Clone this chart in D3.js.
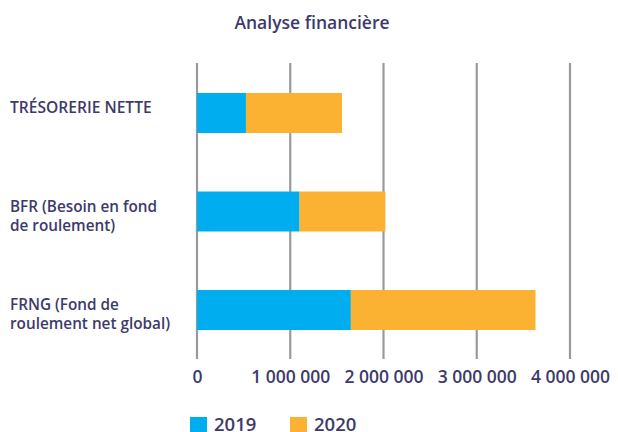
<!DOCTYPE html>
<html>
<head>
<meta charset="utf-8">
<script src="https://cdn.jsdelivr.net/npm/d3@7"></script>
<style>
  body { margin: 0; background: #fff; }
  svg { font-family: "Open Sans", sans-serif; }
</style>
</head>
<body>
<svg width="618" height="432"></svg>
<script>
  // DATA

  var categories = ["TRÉSORERIE NETTE", "BFR (Besoin en fond de roulement)", "FRNG (Fond de roulement net global)"],
    labelLines = [["TRÉSORERIE NETTE"], ["BFR (Besoin en fond", "de roulement)"], ["FRNG (Fond de", "roulement net global)"]],
    series = ["2019", "2020"],
    values2019 = [525000, 1100000, 1650000],
    values2020 = [1030000, 920000, 1980000],
    ticks = [0, 1000000, 2000000, 3000000, 4000000],
    colors = ["#00aeef", "#fbb131"];

  // SETUP

  var svg = d3.select("svg"),
    ink = "#3d3a6b";

  var x = d3.scaleLinear().domain([0, 4000000]).range([197, 570]);
  var y = d3.scaleBand().domain(categories).range([93, 330]).paddingInner(0.594).paddingOuter(0);

  var rows = categories.map(function (c, i) {
    return { cat: c, lines: labelLines[i], v: [values2019[i], values2020[i]] };
  });

  svg.append("text")
    .attr("x", 312)
    .attr("y", 29)
    .attr("text-anchor", "middle")
    .attr("font-size", 17.5)
    .attr("font-weight", 600)
    .attr("fill", ink)
    .text("Analyse financière");

  // gridlines
  svg.append("g")
    .selectAll("line")
    .data(ticks)
    .enter().append("line")
    .attr("x1", function (d) { return x(d); })
    .attr("x2", function (d) { return x(d); })
    .attr("y1", 63)
    .attr("y2", 359)
    .attr("stroke", "#9a9a9e")
    .attr("stroke-width", 2.2);

  // bars
  var bar = svg.append("g")
    .selectAll("g")
    .data(rows)
    .enter().append("g");

  bar.selectAll("rect")
    .data(function (d) {
      var start = 0;
      return d.v.map(function (v, k) {
        var seg = { cat: d.cat, x0: start, x1: start + v, k: k };
        start += v;
        return seg;
      });
    })
    .enter().append("rect")
    .attr("x", function (d) { return x(d.x0); })
    .attr("width", function (d) { return x(d.x1) - x(d.x0); })
    .attr("y", function (d) { return y(d.cat); })
    .attr("height", y.bandwidth())
    .attr("fill", function (d) { return colors[d.k]; });

  // category labels
  var lab = svg.append("g")
    .selectAll("text")
    .data(rows)
    .enter().append("text")
    .attr("x", 10)
    .attr("y", function (d) { return y(d.cat) + y.bandwidth() / 2; })
    .attr("font-size", function (d) { return d.lines.length > 1 ? 15.3 : 15.6; })
    .attr("font-weight", 600)
    .attr("fill", ink);

  lab.selectAll("tspan")
    .data(function (d) { return d.lines; })
    .enter().append("tspan")
    .attr("x", 10)
    .attr("dy", function (d, i) { return i ? 19 : 0; })
    .text(function (d) { return d; });

  // x axis
  var fmt = function (d) { return d3.format(",")(d).replace(/,/g, " "); };
  var axis = svg.append("g")
    .attr("transform", "translate(0,358)")
    .call(d3.axisBottom(x).tickValues(ticks).tickFormat(fmt).tickSize(0).tickPadding(13));
  axis.select(".domain").remove();
  axis.selectAll("text")
    .attr("font-family", "Open Sans, sans-serif")
    .attr("font-size", 17.5)
    .attr("font-weight", 600)
    .attr("fill", ink);

  // legend
  var leg = svg.append("g")
    .selectAll("g")
    .data(series)
    .enter().append("g")
    .attr("transform", function (d, i) { return "translate(" + (190 + i * 100) + ",417)"; });

  leg.append("rect")
    .attr("width", 17)
    .attr("height", 15)
    .attr("fill", function (d, i) { return colors[i]; });

  leg.append("text")
    .attr("x", 24)
    .attr("y", 14)
    .attr("font-size", 18.5)
    .attr("font-weight", 600)
    .attr("fill", ink)
    .text(function (d) { return d; });
</script>
</body>
</html>
